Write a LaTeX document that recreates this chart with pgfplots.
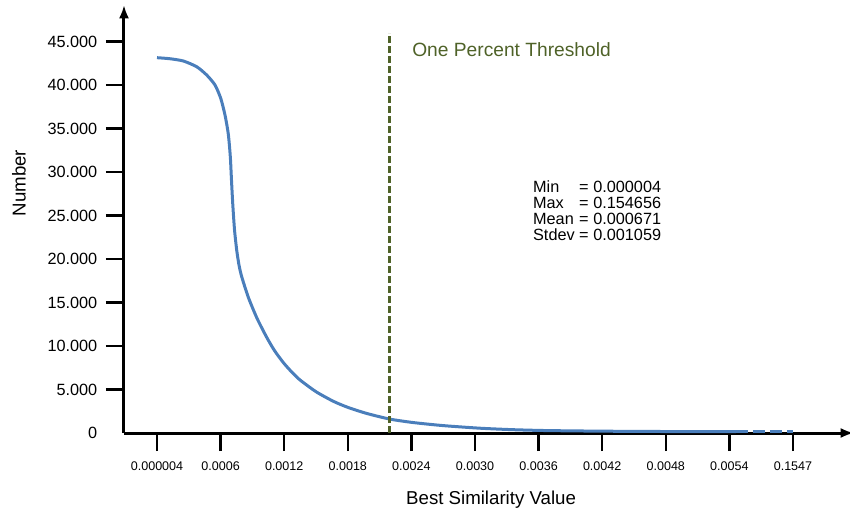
\documentclass[border=0pt]{standalone}
\usepackage{pgfplots}
\pgfplotsset{compat=1.18}
\usepackage{fontspec}
\setmainfont{Liberation Sans}
\usetikzlibrary{arrows.meta}
\definecolor{curveblue}{HTML}{4A7EBB}
\definecolor{olive}{HTML}{4F6228}
\begin{document}
\begin{tikzpicture}
\begin{axis}[
  scale only axis,
  width=543pt, height=321pt,
  xmin=-0.519, xmax=10.865,
  ymin=0, ymax=49220,
  axis lines=left,
  axis line style={line width=2.25pt, black, -{Latex[length=10pt,width=7.5pt]}},
  x axis line style={shorten >=-4.5pt},
  clip=false,
  tick align=outside,
  major tick length=13.5pt,
  every tick/.style={black, line width=1.9pt},
  xtick={0,1,2,3,4,5,6,7,8,9,10},
  xticklabels={0.000004,0.0006,0.0012,0.0018,0.0024,0.0030,0.0036,0.0042,0.0048,0.0054,0.1547},
  ytick={5000,10000,15000,20000,25000,30000,35000,40000,45000},
  extra y ticks={0},
  extra y tick style={major tick style={draw=none}},
  scaled ticks=false,
  /pgf/number format/.cd, assume math mode=true, 1000 sep={.}, fixed,
  /pgfplots/.cd,
  xticklabel style={font=\fontsize{9.4}{11}\selectfont, yshift=-4.75pt},
  yticklabel style={font=\fontsize{12.2}{14}\selectfont, xshift=-3pt},
  xlabel={Best Similarity Value},
  ylabel={Number},
  every axis x label/.style={at={(axis description cs:0.507,-0.166)}, anchor=base, font=\fontsize{14}{16}\selectfont},
  every axis y label/.style={at={(axis description cs:-0.145,0.584)}, rotate=90, anchor=center, font=\fontsize{14}{16}\selectfont},
]
\coordinate (o) at (rel axis cs:0,0);
\addplot[curveblue, line width=2.25pt, smooth, tension=0.4] coordinates {
(0,43160) (0.204,43040) (0.414,42780) (0.624,42120) (0.781,41170) (0.912,40020)
(1.002,38490) (1.069,36570) (1.121,34380) (1.153,31740) (1.171,29090) (1.192,26220)
(1.219,23340) (1.253,21040) (1.289,19320) (1.332,17970) (1.436,15600) (1.572,13200)
(1.725,11000) (1.85,9450) (1.986,8100) (2.12,7000) (2.248,6100) (2.5,4750)
(2.772,3650) (3.0,2950) (3.297,2250) (3.66,1600) (4.03,1200) (4.5,850)
(5.08,550) (5.6,380) (6.13,280) (7,210) (8,170) (9.1,150)
};
\addplot[curveblue, line width=2.25pt, dash pattern=on 9pt off 3.75pt] coordinates {
(9.1,150) (10,150)
};
\addplot[olive, line width=2.25pt, dash pattern=on 5.25pt off 2.25pt] coordinates {
(3.66,0) (3.66,46000)
};
\node[anchor=base west, inner sep=0, text=olive, font=\fontsize{14.4}{16}\selectfont] at (axis cs:4.01,43350) {One Percent Threshold};
\node[anchor=base west, inner sep=0, font=\fontsize{12.2}{11}\selectfont] at (axis cs:5.91,27600) {%
\begin{tabular}[t]{@{}l@{\ }l@{}}
Min & = 0.000004\\
Max & = 0.154656\\
Mean & = 0.000671\\
Stdev & = 0.001059
\end{tabular}};
\end{axis}
\pgfresetboundingbox
\path (o) ++(-93pt,-60.75pt) rectangle ++(637.5pt,385.5pt);
\end{tikzpicture}
\end{document}
